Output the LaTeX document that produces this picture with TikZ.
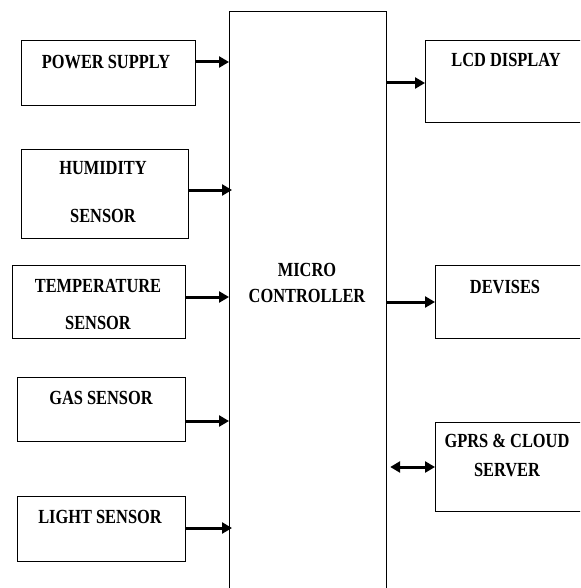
\documentclass[tikz,border=0pt]{standalone}
\usepackage{fontspec}
\newfontfamily\lblfont[FakeStretch=0.82]{Liberation Serif}
\usetikzlibrary{arrows.meta}

\tikzset{
  blk/.style={draw, line width=1.2pt, anchor=north west, inner sep=0pt},
  lbl/.style={align=center, font=\lblfont\bfseries\fontsize{20}{#1}\selectfont},
  lbl/.default=22,
  arr/.style={line width=3pt, -{Triangle[length=10pt,width=11pt]}},
  darr/.style={line width=3pt, {Triangle[length=10pt,width=11pt]}-{Triangle[length=10pt,width=11pt]}}
}

\begin{document}
\begin{tikzpicture}[x=1pt, y=-1pt]
\useasboundingbox (0,0) rectangle (580,588);
\clip (0,0) rectangle (580,588);

% Draw the controller block
\node[blk, minimum width=157pt, minimum height=600pt] (mc) at (229,11) {};
\node[lbl=26] (mcT) at (307,283) {MICRO\\CONTROLLER};

% Draw input blocks
\node[blk, minimum width=174pt, minimum height=65pt] (ps) at (21,40) {};
\node[lbl] (psT) at (106,62) {POWER SUPPLY};
\node[blk, minimum width=167pt, minimum height=89pt] (hum) at (21,149) {};
\node[lbl=48] (humT) at (103,192) {HUMIDITY\\SENSOR};
\node[blk, minimum width=173pt, minimum height=73pt] (temp) at (12,265) {};
\node[lbl=37] (tempT) at (98,304) {TEMPERATURE\\SENSOR};
\node[blk, minimum width=168pt, minimum height=64pt] (gas) at (17,377) {};
\node[lbl] (gasT) at (101,398) {GAS SENSOR};
\node[blk, minimum width=168pt, minimum height=65pt] (light) at (17,496) {};
\node[lbl] (lightT) at (100,517) {LIGHT SENSOR};

% Draw output blocks
\node[blk, minimum width=200pt, minimum height=82pt] (lcd) at (425,40) {};
\node[lbl] (lcdT) at (506,60) {LCD DISPLAY};
\node[blk, minimum width=200pt, minimum height=73pt] (dev) at (435,265) {};
\node[lbl] (devT) at (505,287) {DEVISES};
\node[blk, minimum width=200pt, minimum height=89pt] (gprs) at (435,422) {};
\node[lbl=29] (gprsT) at (507,455) {GPRS \& CLOUD\\SERVER};

% Connect inputs to the controller
\draw[arr] (ps.east |- 0,62) -- (mc.west |- 0,62);
\draw[arr, shorten >=-3pt] (hum.east |- 0,190) -- (mc.west |- 0,190);
\draw[arr] (temp.east |- 0,297) -- (mc.west |- 0,297);
\draw[arr] (gas.east |- 0,421) -- (mc.west |- 0,421);
\draw[arr, shorten >=-3pt] (light.east |- 0,528) -- (mc.west |- 0,528);

% Connect the controller to outputs
\draw[arr] (mc.east |- 0,83) -- (lcd.west |- 0,83);
\draw[arr] (mc.east |- 0,302) -- (dev.west |- 0,302);
\draw[darr, shorten <=3pt] (mc.east |- 0,467) -- (gprs.west |- 0,467);
\end{tikzpicture}
\end{document}
